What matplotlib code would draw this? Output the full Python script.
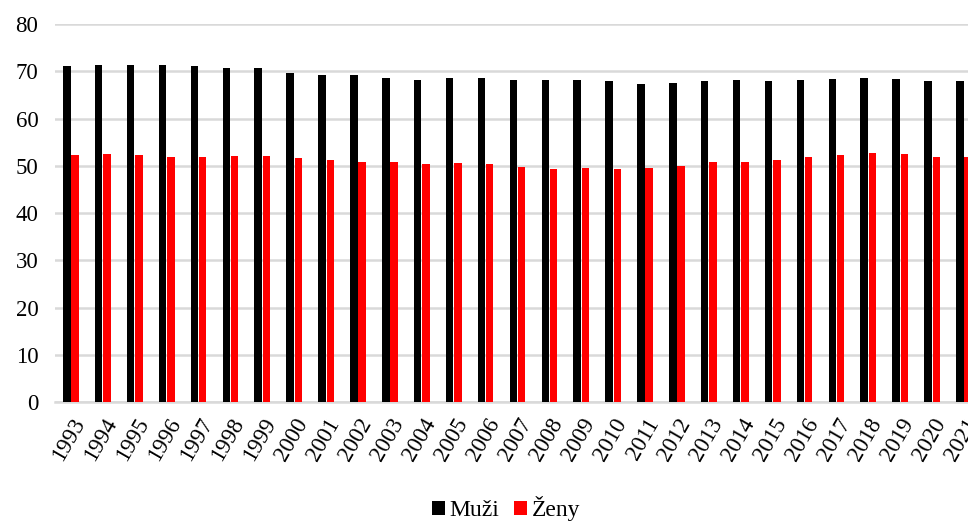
import matplotlib.pyplot as plt
import numpy as np

years = [str(y) for y in range(1993, 2022)]
muzi = [71.2, 71.35, 71.4, 71.35, 71.05, 70.8, 70.6, 69.7, 69.3, 69.2,
        68.6, 68.25, 68.6, 68.5, 68.2, 68.1, 68.2, 67.9, 67.4, 67.6,
        68.0, 68.1, 67.9, 68.25, 68.4, 68.6, 68.4, 68.0, 67.9]
zeny = [52.25, 52.5, 52.25, 51.8, 51.8, 52.0, 52.0, 51.6, 51.3, 50.85,
        50.8, 50.4, 50.55, 50.4, 49.7, 49.3, 49.5, 49.3, 49.5, 49.95,
        50.8, 50.8, 51.2, 51.8, 52.25, 52.7, 52.45, 51.8, 51.8]
series_names = ["Muži", "Ženy"]

plt.rcParams["font.family"] = ["Liberation Serif", "DejaVu Serif"]

fig = plt.figure(figsize=(9.68, 5.21), dpi=100)
# the chart is cropped on the right in the original, so the axes run past the edge
ax = fig.add_axes([55 / 968, 1 - 402.3 / 521, 925 / 968, (402.3 - 24) / 521])

x = np.arange(len(years))
w = 0.235
ax.bar(x - 0.13, muzi, width=w, color="black", label=series_names[0], zorder=3)
ax.bar(x + 0.13, zeny, width=w, color="#ff0000", label=series_names[1], zorder=3)

ax.set_xlim(-0.5, len(years) - 0.5)
ax.set_ylim(0, 80)
ax.set_yticks(range(0, 81, 10))
ax.yaxis.grid(True, color="#d9d9d9", linewidth=1.8, zorder=0)
for s in ["top", "right", "left"]:
    ax.spines[s].set_visible(False)
ax.spines["bottom"].set_color("#d9d9d9")
ax.spines["bottom"].set_linewidth(1.8)
ax.tick_params(axis="both", length=0, labelsize=16.5)
ax.tick_params(axis="y", pad=12)

ax.set_xticks(x)
ax.set_xticklabels(years, rotation=60, ha="right", va="top",
                   rotation_mode="anchor", fontsize=16.5)
ax.tick_params(axis="x", pad=9)

fig.legend(loc="center", bbox_to_anchor=(506 / 968, 0.024), ncol=2,
           frameon=False, fontsize=17, handlelength=0.55, handleheight=0.55,
           handletextpad=0.2, columnspacing=0.6)

fig.savefig("out.png", dpi=100)
